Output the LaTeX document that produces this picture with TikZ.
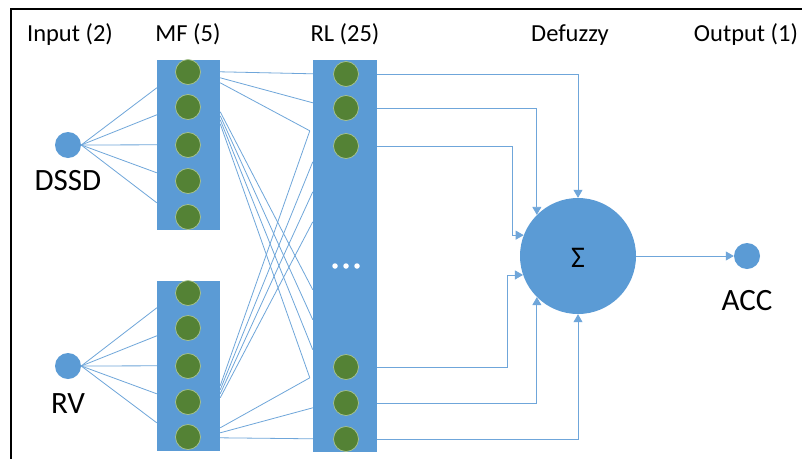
\documentclass[tikz,border=0pt]{standalone}
\usepackage{fontspec}
\setmainfont{Carlito}
\usetikzlibrary{arrows.meta,calc}
\definecolor{ob}{HTML}{5B9BD5}
\definecolor{og}{HTML}{548235}
\definecolor{gb}{HTML}{A9C490}
\definecolor{wc}{HTML}{6FA6DA}
\begin{document}
\begin{tikzpicture}[x=1pt,y=-1pt,
  lbl/.style={font=\fontsize{24.5}{28}\selectfont, inner sep=0, anchor=base},
  big/.style={font=\fontsize{31}{36}\selectfont, inner sep=0, anchor=base},
  inp/.style={circle, fill=ob, minimum size=26pt, inner sep=0},
  colbox/.style={rectangle, fill=ob, minimum width=63pt, inner sep=0},
  gc/.style={circle, fill=og, draw=gb, line width=0.7pt, minimum size=25pt, inner sep=0},
  dot/.style={circle, fill=white, minimum size=5.5pt, inner sep=0},
  wire/.style={draw=wc, line width=0.8pt},
  arr/.style={wire, -{Triangle[length=8pt,width=9pt]}}
]
\useasboundingbox (0,0) rectangle (802,458);
\fill[white] (0,0) rectangle (802,458);
\draw[line width=2.5pt] (11,462) -- (11,9) -- (806,9);

% titles
\node[lbl] (tin) at (70,41) {Input (2)};
\node[lbl] (tmf) at (188,41) {MF (5)};
\node[lbl] (trl) at (345,41) {RL (25)};
\node[lbl] (tdf) at (570,41) {Defuzzy};
\node[lbl] (tout) at (746,41) {Output (1)};

% inputs
\node[inp] (in1) at (68,145) {};
\node[inp] (in2) at (68,366) {};
\node[big] (ldssd) at (68,190) {DSSD};
\node[big] (lrv) at (68,413) {RV};

% MF boxes
\node[colbox, minimum height=170pt] (mf1) at (188.5,145) {};
\node[colbox, minimum height=170pt] (mf2) at (188.5,366) {};
\foreach \y [count=\i] in {72,107,145,181,217} \node[gc] (a\i) at (188,\y) {};
\foreach \y [count=\i] in {293,328,366,402,437} \node[gc] (b\i) at (188,\y) {};

% RL box
\node[colbox, minimum width=64pt, minimum height=392pt] (rl) at (345,256) {};
\foreach \y [count=\i] in {74,108,146,367,403,439} \node[gc] (r\i) at (346,\y) {};
\node[dot] (d1) at (335,266) {};
\node[dot] (d2) at (346,266) {};
\node[dot] (d3) at (357,266) {};

% defuzzy and output
\node[circle, fill=ob, minimum size=116pt, inner sep=0] (sig) at (578,256) {};
\node[font=\fontsize{30}{34}\selectfont, inner sep=0, anchor=base] (sigt) at (578,267) {Σ};
\node[inp] (acc) at (747,256) {};
\node[big] (lacc) at (747,310) {ACC};

% input -> MF
\foreach \o in {28,55,85,113,143}
  \draw[wire] (in1.east) -- ($(mf1.north west)+(0,\o)$);
\foreach \o in {27,55,85,113,142}
  \draw[wire] (in2.east) -- ($(mf2.north west)+(0,\o)$);

% MF1 -> RL top
\draw[wire] ($(mf1.north east)+(0,12)$) -- ($(rl.north west)+(0,14)$);
\draw[wire] ($(mf1.north east)+(0,18)$) -- ($(rl.north west)+(0,43)$);
\draw[wire] ($(mf1.north east)+(0,23)$) -- ($(rl.north west)+(-3,71)$);
% MF1 -> RL lower (crossing)
\draw[wire] ($(mf1.north east)+(0,52)$) -- ($(rl.north west)+(0,230)$);
\draw[wire] ($(mf1.north east)+(0,56)$) -- ($(rl.north west)+(0,260)$);
\draw[wire] ($(mf1.north east)+(0,60)$) -- ($(rl.north west)+(0,290)$);
\draw[wire] ($(mf1.north east)+(0,64)$) -- ($(rl.north west)+(-3,318)$);
% MF2 -> RL upper (crossing)
\draw[wire] ($(mf2.north east)+(0,105)$) -- ($(rl.north west)+(-3,71)$);
\draw[wire] ($(mf2.north east)+(0,109)$) -- ($(rl.north west)+(0,102)$);
\draw[wire] ($(mf2.north east)+(0,113)$) -- ($(rl.north west)+(0,132)$);
\draw[wire] ($(mf2.north east)+(0,117)$) -- ($(rl.north west)+(0,162)$);
% MF2 -> RL bottom
\draw[wire] ($(mf2.north east)+(0,147)$) -- ($(rl.north west)+(-3,318)$);
\draw[wire] ($(mf2.north east)+(0,152)$) -- ($(rl.north west)+(0,348)$);
\draw[wire] ($(mf2.north east)+(0,157)$) -- ($(rl.north west)+(0,379)$);

% RL -> Sigma
\coordinate (k3) at (512,146);
\coordinate (k4) at (507,367);
\draw[arr] (rl.east |- r1) -| (sig.north);
\draw[arr] (rl.east |- r2) -| (sig.135);
\draw[arr] (rl.east |- r3) -- (k3) |- (sig.159);
\draw[arr] (rl.east |- r4) -- (k4) |- (sig.199);
\draw[arr] (rl.east |- r5) -| (sig.225);
\draw[arr] (rl.east |- r6) -| (sig.south);
\draw[arr] (sig.east) -- (acc.west);
\end{tikzpicture}
\end{document}
